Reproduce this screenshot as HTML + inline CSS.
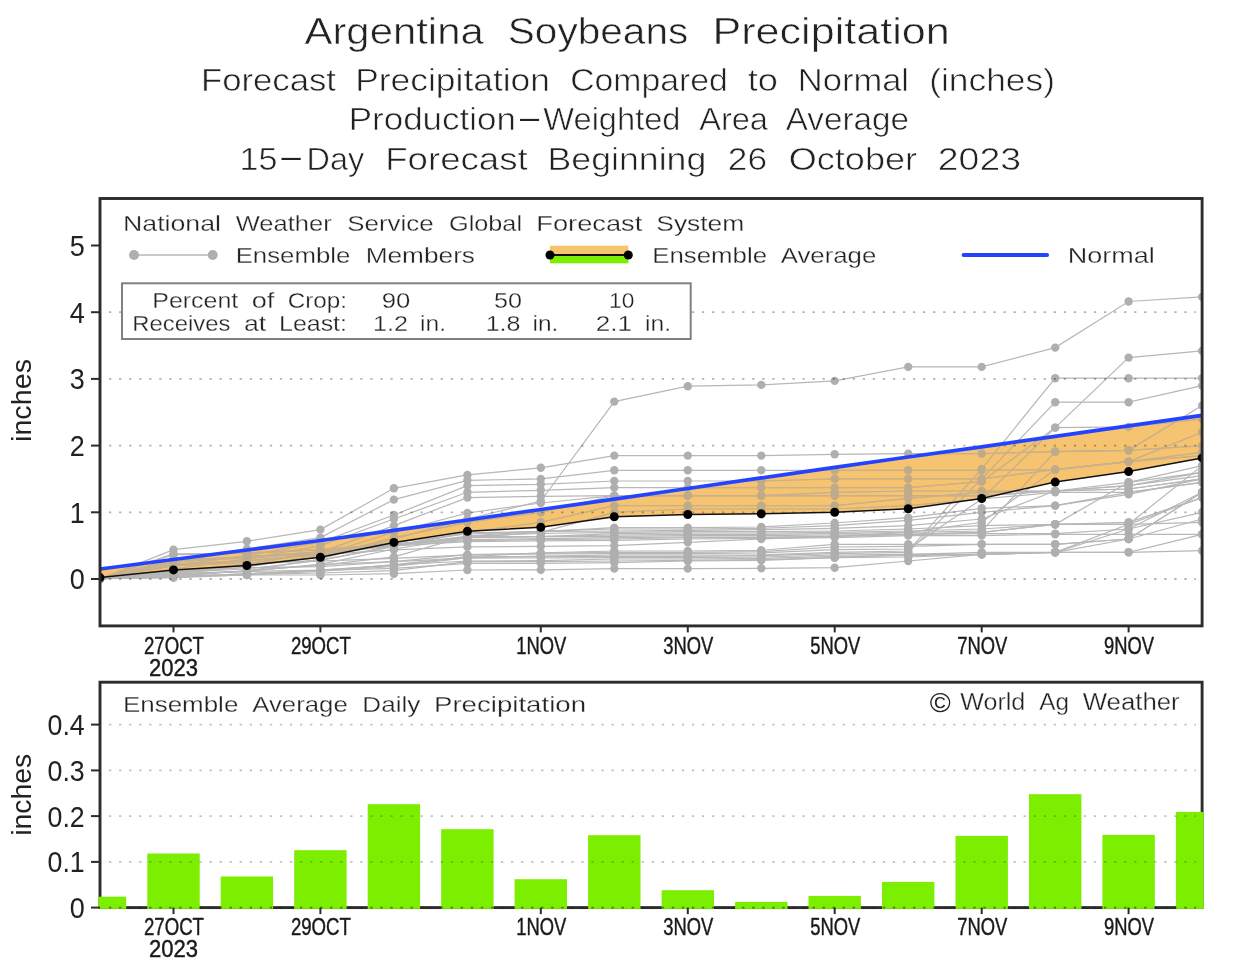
<!DOCTYPE html>
<html lang="en"><head><meta charset="utf-8"><title>Argentina Soybeans Precipitation</title>
<style>
html,body{margin:0;padding:0;background:#fff;}
svg{display:block;font-family:'Liberation Sans', sans-serif;}
</style></head><body>
<svg width="1233" height="969" viewBox="0 0 1233 969">
<rect width="1233" height="969" fill="#fff"/>
<text x="304.5" y="44.2" font-size="37.5" textLength="179.2" lengthAdjust="spacingAndGlyphs" fill="#222" stroke="#fff" stroke-width="0.6">Argentina</text>
<text x="507.8" y="44.2" font-size="37.5" textLength="180.5" lengthAdjust="spacingAndGlyphs" fill="#222" stroke="#fff" stroke-width="0.6">Soybeans</text>
<text x="712.5" y="44.2" font-size="37.5" textLength="237.2" lengthAdjust="spacingAndGlyphs" fill="#222" stroke="#fff" stroke-width="0.6">Precipitation</text>
<text x="201.0" y="90.7" font-size="31.5" textLength="135.0" lengthAdjust="spacingAndGlyphs" fill="#222" stroke="#fff" stroke-width="0.6">Forecast</text>
<text x="355.2" y="90.7" font-size="31.5" textLength="194.8" lengthAdjust="spacingAndGlyphs" fill="#222" stroke="#fff" stroke-width="0.6">Precipitation</text>
<text x="570.2" y="90.7" font-size="31.5" textLength="157.5" lengthAdjust="spacingAndGlyphs" fill="#222" stroke="#fff" stroke-width="0.6">Compared</text>
<text x="747.8" y="90.7" font-size="31.5" textLength="30.2" lengthAdjust="spacingAndGlyphs" fill="#222" stroke="#fff" stroke-width="0.6">to</text>
<text x="797.8" y="90.7" font-size="31.5" textLength="111.2" lengthAdjust="spacingAndGlyphs" fill="#222" stroke="#fff" stroke-width="0.6">Normal</text>
<text x="929.2" y="90.7" font-size="31.5" textLength="125.8" lengthAdjust="spacingAndGlyphs" fill="#222" stroke="#fff" stroke-width="0.6">(inches)</text>
<text x="348.7" y="129.7" font-size="31.5" textLength="167.3" lengthAdjust="spacingAndGlyphs" fill="#222" stroke="#fff" stroke-width="0.6">Production</text>
<text x="543.3" y="129.7" font-size="31.5" textLength="137.2" lengthAdjust="spacingAndGlyphs" fill="#222" stroke="#fff" stroke-width="0.6">Weighted</text>
<text x="699.2" y="129.7" font-size="31.5" textLength="68.8" lengthAdjust="spacingAndGlyphs" fill="#222" stroke="#fff" stroke-width="0.6">Area</text>
<text x="785.8" y="129.7" font-size="31.5" textLength="123.2" lengthAdjust="spacingAndGlyphs" fill="#222" stroke="#fff" stroke-width="0.6">Average</text>
<text x="239.5" y="170.0" font-size="31.5" textLength="38.0" lengthAdjust="spacingAndGlyphs" fill="#222" stroke="#fff" stroke-width="0.6">15</text>
<text x="306.6" y="170.0" font-size="31.5" textLength="57.6" lengthAdjust="spacingAndGlyphs" fill="#222" stroke="#fff" stroke-width="0.6">Day</text>
<text x="385.2" y="170.0" font-size="31.5" textLength="142.5" lengthAdjust="spacingAndGlyphs" fill="#222" stroke="#fff" stroke-width="0.6">Forecast</text>
<text x="547.5" y="170.0" font-size="31.5" textLength="158.8" lengthAdjust="spacingAndGlyphs" fill="#222" stroke="#fff" stroke-width="0.6">Beginning</text>
<text x="727.8" y="170.0" font-size="31.5" textLength="39.2" lengthAdjust="spacingAndGlyphs" fill="#222" stroke="#fff" stroke-width="0.6">26</text>
<text x="788.8" y="170.0" font-size="31.5" textLength="128.2" lengthAdjust="spacingAndGlyphs" fill="#222" stroke="#fff" stroke-width="0.6">October</text>
<text x="937.8" y="170.0" font-size="31.5" textLength="83.2" lengthAdjust="spacingAndGlyphs" fill="#222" stroke="#fff" stroke-width="0.6">2023</text>
<text x="519.9" y="127.5" font-size="31.5" textLength="19.1" lengthAdjust="spacingAndGlyphs" fill="#222">—</text>
<text x="281.5" y="167" font-size="31.5" textLength="19.2" lengthAdjust="spacingAndGlyphs" fill="#222">—</text>
<clipPath id="plot"><rect x="100.0" y="198.5" width="1102.1" height="427.4"/></clipPath>
<g clip-path="url(#plot)">
<g id="ens">
<g fill="none" stroke="#b7b7b7" stroke-width="1.2">
<polyline points="100.0,579.0 173.5,549.7 246.9,541.3 320.4,529.6 393.9,488.3 467.4,474.9 540.8,467.8 614.3,455.6 687.8,455.6 761.3,455.6 834.7,454.3 908.2,453.6 981.7,453.6 1055.2,451.6 1128.6,450.3 1202.1,405.6"/>
<polyline points="100.0,579.0 173.5,559.0 246.9,549.0 320.4,537.6 393.9,499.6 467.4,480.3 540.8,478.9 614.3,470.3 687.8,470.3 761.3,470.3 834.7,470.3 908.2,470.3 981.7,470.3 1055.2,469.6 1128.6,461.6 1202.1,432.3"/>
<polyline points="100.0,579.0 173.5,565.7 246.9,555.7 320.4,542.3 393.9,515.0 467.4,485.6 540.8,484.3 614.3,481.0 687.8,481.0 761.3,481.0 834.7,478.9 908.2,478.9 981.7,478.9 1055.2,469.6 1128.6,461.6 1202.1,452.3"/>
<polyline points="100.0,579.0 173.5,569.0 246.9,559.0 320.4,545.6 393.9,519.0 467.4,492.3 540.8,490.3 614.3,487.6 687.8,487.6 761.3,487.6 834.7,487.6 908.2,487.6 981.7,481.6 1055.2,427.6 1128.6,426.9 1202.1,418.9"/>
<polyline points="100.0,579.0 173.5,572.3 246.9,564.3 320.4,552.3 393.9,525.6 467.4,497.6 540.8,496.3 614.3,495.6 687.8,495.6 761.3,495.6 834.7,495.6 908.2,495.6 981.7,495.6 1055.2,491.0 1128.6,482.3 1202.1,472.3"/>
<polyline points="100.0,579.0 173.5,573.7 246.9,567.0 320.4,555.0 393.9,532.3 467.4,513.0 540.8,503.0 614.3,495.6 687.8,495.6 761.3,495.6 834.7,495.6 908.2,495.6 981.7,495.6 1055.2,491.0 1128.6,485.6 1202.1,475.6"/>
<polyline points="100.0,579.0 173.5,571.0 246.9,565.7 320.4,557.0 393.9,537.6 467.4,522.3 540.8,512.3 614.3,495.6 687.8,495.6 761.3,495.6 834.7,492.3 908.2,491.0 981.7,491.0 1055.2,491.0 1128.6,489.0 1202.1,478.9"/>
<polyline points="100.0,579.0 173.5,575.7 246.9,571.0 320.4,559.0 393.9,539.0 467.4,519.0 540.8,501.0 614.3,401.6 687.8,386.2 761.3,384.9 834.7,380.9 908.2,366.9 981.7,366.9 1055.2,347.6 1128.6,301.5 1202.1,296.9"/>
<polyline points="100.0,579.0 173.5,572.3 246.9,569.0 320.4,560.3 393.9,545.6 467.4,532.3 540.8,522.3 614.3,505.6 687.8,505.6 761.3,505.6 834.7,505.6 908.2,498.3 981.7,492.3 1055.2,491.0 1128.6,489.0 1202.1,478.9"/>
<polyline points="100.0,579.0 173.5,575.0 246.9,571.0 320.4,564.3 393.9,549.0 467.4,537.6 540.8,532.3 614.3,512.3 687.8,509.0 761.3,509.0 834.7,509.0 908.2,505.6 981.7,499.0 1055.2,492.3 1128.6,492.3 1202.1,482.3"/>
<polyline points="100.0,578.6 173.5,573.6 246.9,564.7 320.4,560.2 393.9,546.7 467.4,532.8 540.8,531.6 614.3,527.6 687.8,527.6 761.3,527.0 834.7,523.0 908.2,517.6 981.7,508.3 1055.2,505.6 1128.6,494.3 1202.1,478.9"/>
<polyline points="100.0,578.3 173.5,576.7 246.9,570.5 320.4,565.4 393.9,556.8 467.4,536.0 540.8,531.1 614.3,529.0 687.8,529.0 761.3,528.3 834.7,525.6 908.2,520.3 981.7,512.3 1055.2,505.6 1128.6,492.3 1202.1,482.3"/>
<polyline points="100.0,578.8 173.5,571.7 246.9,564.0 320.4,551.3 393.9,542.6 467.4,534.0 540.8,531.6 614.3,531.0 687.8,530.3 761.3,529.6 834.7,528.3 908.2,525.6 981.7,519.0 1055.2,491.0 1128.6,485.6 1202.1,472.3"/>
<polyline points="100.0,578.9 173.5,554.8 246.9,552.8 320.4,549.9 393.9,545.5 467.4,536.2 540.8,533.5 614.3,532.3 687.8,531.6 761.3,531.6 834.7,531.0 908.2,529.0 981.7,525.6 1055.2,524.3 1128.6,524.3 1202.1,522.3"/>
<polyline points="100.0,578.8 173.5,562.1 246.9,556.7 320.4,551.8 393.9,544.2 467.4,537.6 540.8,536.7 614.3,533.6 687.8,533.0 761.3,533.0 834.7,532.3 908.2,531.0 981.7,529.0 1055.2,524.3 1128.6,524.3 1202.1,497.6"/>
<polyline points="100.0,578.7 173.5,560.0 246.9,556.8 320.4,552.6 393.9,544.9 467.4,537.4 540.8,536.5 614.3,535.0 687.8,534.3 761.3,534.3 834.7,533.6 908.2,532.3 981.7,531.0 1055.2,451.6 1128.6,450.3 1202.1,445.6"/>
<polyline points="100.0,577.9 173.5,560.1 246.9,558.4 320.4,552.4 393.9,545.8 467.4,537.2 540.8,536.6 614.3,536.3 687.8,535.6 761.3,535.6 834.7,535.0 908.2,534.3 981.7,532.3 1055.2,524.3 1128.6,482.3 1202.1,465.6"/>
<polyline points="100.0,578.6 173.5,553.8 246.9,553.3 320.4,549.7 393.9,543.7 467.4,539.7 540.8,538.7 614.3,537.6 687.8,537.0 761.3,537.0 834.7,536.3 908.2,534.3 981.7,533.6 1055.2,533.6 1128.6,529.0 1202.1,492.3"/>
<polyline points="100.0,578.9 173.5,562.0 246.9,556.7 320.4,551.9 393.9,544.8 467.4,540.7 540.8,539.6 614.3,539.0 687.8,537.6 761.3,537.6 834.7,536.3 908.2,532.3 981.7,522.3 1055.2,469.6 1128.6,461.6 1202.1,455.6"/>
<polyline points="100.0,578.2 173.5,564.5 246.9,561.2 320.4,553.9 393.9,546.0 467.4,541.7 540.8,540.9 614.3,540.3 687.8,539.0 761.3,538.3 834.7,537.6 908.2,535.6 981.7,535.6 1055.2,534.3 1128.6,534.3 1202.1,534.3"/>
<polyline points="100.0,578.9 173.5,564.1 246.9,560.5 320.4,554.6 393.9,549.9 467.4,546.9 540.8,546.4 614.3,545.6 687.8,542.3 761.3,539.0 834.7,536.3 908.2,534.3 981.7,532.3 1055.2,524.3 1128.6,522.3 1202.1,497.6"/>
<polyline points="100.0,578.1 173.5,577.3 246.9,573.7 320.4,570.2 393.9,565.5 467.4,556.5 540.8,552.9 614.3,551.0 687.8,551.0 761.3,550.3 834.7,544.3 908.2,544.3 981.7,544.3 1055.2,544.3 1128.6,539.0 1202.1,519.0"/>
<polyline points="100.0,578.8 173.5,573.9 246.9,571.4 320.4,564.5 393.9,561.7 467.4,554.6 540.8,553.4 614.3,552.3 687.8,552.3 761.3,551.7 834.7,547.0 908.2,546.3 981.7,544.3 1055.2,544.3 1128.6,539.0 1202.1,492.3"/>
<polyline points="100.0,577.8 173.5,565.9 246.9,562.7 320.4,561.1 393.9,558.3 467.4,554.9 540.8,554.0 614.3,553.7 687.8,553.7 761.3,553.0 834.7,549.7 908.2,549.0 981.7,499.0 1055.2,427.6 1128.6,357.6 1202.1,350.9"/>
<polyline points="100.0,577.7 173.5,575.6 246.9,574.5 320.4,571.2 393.9,566.5 467.4,557.6 540.8,556.2 614.3,555.0 687.8,555.0 761.3,555.0 834.7,552.3 908.2,551.0 981.7,468.9 1055.2,378.2 1128.6,378.2 1202.1,378.2"/>
<polyline points="100.0,578.6 173.5,577.6 246.9,574.9 320.4,571.0 393.9,564.7 467.4,556.9 540.8,556.5 614.3,556.3 687.8,556.3 761.3,555.7 834.7,553.7 908.2,552.3 981.7,478.9 1055.2,402.2 1128.6,402.2 1202.1,385.6"/>
<polyline points="100.0,578.3 173.5,570.3 246.9,567.7 320.4,566.6 393.9,561.6 467.4,558.2 540.8,557.8 614.3,557.7 687.8,557.7 761.3,557.0 834.7,555.0 908.2,554.3 981.7,552.3 1055.2,552.3 1128.6,552.3 1202.1,550.7"/>
<polyline points="100.0,577.9 173.5,573.3 246.9,571.6 320.4,570.0 393.9,565.0 467.4,561.0 540.8,560.7 614.3,559.0 687.8,559.0 761.3,558.3 834.7,556.3 908.2,555.7 981.7,554.3 1055.2,552.3 1128.6,524.3 1202.1,465.6"/>
<polyline points="100.0,578.7 173.5,576.1 246.9,574.5 320.4,573.0 393.9,570.6 467.4,561.7 540.8,561.7 614.3,561.0 687.8,560.3 761.3,559.7 834.7,557.7 908.2,554.3 981.7,554.3 1055.2,552.3 1128.6,539.0 1202.1,492.3"/>
<polyline points="100.0,578.5 173.5,577.4 246.9,573.6 320.4,570.5 393.9,568.4 467.4,563.3 540.8,563.3 614.3,562.7 687.8,561.0 761.3,560.3 834.7,557.7 908.2,557.0 981.7,554.3 1055.2,552.3 1128.6,529.0 1202.1,512.3"/>
<polyline points="100.0,578.5 173.5,577.0 246.9,575.0 320.4,575.0 393.9,573.7 467.4,570.0 540.8,569.9 614.3,568.6 687.8,568.6 761.3,568.3 834.7,567.7 908.2,561.0 981.7,554.3 1055.2,552.3 1128.6,552.3 1202.1,534.3"/>
</g>
<g fill="#afafaf">
<circle cx="100.0" cy="579.0" r="4.2"/>
<circle cx="173.5" cy="549.7" r="4.2"/>
<circle cx="246.9" cy="541.3" r="4.2"/>
<circle cx="320.4" cy="529.6" r="4.2"/>
<circle cx="393.9" cy="488.3" r="4.2"/>
<circle cx="467.4" cy="474.9" r="4.2"/>
<circle cx="540.8" cy="467.8" r="4.2"/>
<circle cx="614.3" cy="455.6" r="4.2"/>
<circle cx="687.8" cy="455.6" r="4.2"/>
<circle cx="761.3" cy="455.6" r="4.2"/>
<circle cx="834.7" cy="454.3" r="4.2"/>
<circle cx="908.2" cy="453.6" r="4.2"/>
<circle cx="981.7" cy="453.6" r="4.2"/>
<circle cx="1055.2" cy="451.6" r="4.2"/>
<circle cx="1128.6" cy="450.3" r="4.2"/>
<circle cx="1202.1" cy="405.6" r="4.2"/>
<circle cx="100.0" cy="579.0" r="4.2"/>
<circle cx="173.5" cy="559.0" r="4.2"/>
<circle cx="246.9" cy="549.0" r="4.2"/>
<circle cx="320.4" cy="537.6" r="4.2"/>
<circle cx="393.9" cy="499.6" r="4.2"/>
<circle cx="467.4" cy="480.3" r="4.2"/>
<circle cx="540.8" cy="478.9" r="4.2"/>
<circle cx="614.3" cy="470.3" r="4.2"/>
<circle cx="687.8" cy="470.3" r="4.2"/>
<circle cx="761.3" cy="470.3" r="4.2"/>
<circle cx="834.7" cy="470.3" r="4.2"/>
<circle cx="908.2" cy="470.3" r="4.2"/>
<circle cx="981.7" cy="470.3" r="4.2"/>
<circle cx="1055.2" cy="469.6" r="4.2"/>
<circle cx="1128.6" cy="461.6" r="4.2"/>
<circle cx="1202.1" cy="432.3" r="4.2"/>
<circle cx="100.0" cy="579.0" r="4.2"/>
<circle cx="173.5" cy="565.7" r="4.2"/>
<circle cx="246.9" cy="555.7" r="4.2"/>
<circle cx="320.4" cy="542.3" r="4.2"/>
<circle cx="393.9" cy="515.0" r="4.2"/>
<circle cx="467.4" cy="485.6" r="4.2"/>
<circle cx="540.8" cy="484.3" r="4.2"/>
<circle cx="614.3" cy="481.0" r="4.2"/>
<circle cx="687.8" cy="481.0" r="4.2"/>
<circle cx="761.3" cy="481.0" r="4.2"/>
<circle cx="834.7" cy="478.9" r="4.2"/>
<circle cx="908.2" cy="478.9" r="4.2"/>
<circle cx="981.7" cy="478.9" r="4.2"/>
<circle cx="1055.2" cy="469.6" r="4.2"/>
<circle cx="1128.6" cy="461.6" r="4.2"/>
<circle cx="1202.1" cy="452.3" r="4.2"/>
<circle cx="100.0" cy="579.0" r="4.2"/>
<circle cx="173.5" cy="569.0" r="4.2"/>
<circle cx="246.9" cy="559.0" r="4.2"/>
<circle cx="320.4" cy="545.6" r="4.2"/>
<circle cx="393.9" cy="519.0" r="4.2"/>
<circle cx="467.4" cy="492.3" r="4.2"/>
<circle cx="540.8" cy="490.3" r="4.2"/>
<circle cx="614.3" cy="487.6" r="4.2"/>
<circle cx="687.8" cy="487.6" r="4.2"/>
<circle cx="761.3" cy="487.6" r="4.2"/>
<circle cx="834.7" cy="487.6" r="4.2"/>
<circle cx="908.2" cy="487.6" r="4.2"/>
<circle cx="981.7" cy="481.6" r="4.2"/>
<circle cx="1055.2" cy="427.6" r="4.2"/>
<circle cx="1128.6" cy="426.9" r="4.2"/>
<circle cx="1202.1" cy="418.9" r="4.2"/>
<circle cx="100.0" cy="579.0" r="4.2"/>
<circle cx="173.5" cy="572.3" r="4.2"/>
<circle cx="246.9" cy="564.3" r="4.2"/>
<circle cx="320.4" cy="552.3" r="4.2"/>
<circle cx="393.9" cy="525.6" r="4.2"/>
<circle cx="467.4" cy="497.6" r="4.2"/>
<circle cx="540.8" cy="496.3" r="4.2"/>
<circle cx="614.3" cy="495.6" r="4.2"/>
<circle cx="687.8" cy="495.6" r="4.2"/>
<circle cx="761.3" cy="495.6" r="4.2"/>
<circle cx="834.7" cy="495.6" r="4.2"/>
<circle cx="908.2" cy="495.6" r="4.2"/>
<circle cx="981.7" cy="495.6" r="4.2"/>
<circle cx="1055.2" cy="491.0" r="4.2"/>
<circle cx="1128.6" cy="482.3" r="4.2"/>
<circle cx="1202.1" cy="472.3" r="4.2"/>
<circle cx="100.0" cy="579.0" r="4.2"/>
<circle cx="173.5" cy="573.7" r="4.2"/>
<circle cx="246.9" cy="567.0" r="4.2"/>
<circle cx="320.4" cy="555.0" r="4.2"/>
<circle cx="393.9" cy="532.3" r="4.2"/>
<circle cx="467.4" cy="513.0" r="4.2"/>
<circle cx="540.8" cy="503.0" r="4.2"/>
<circle cx="614.3" cy="495.6" r="4.2"/>
<circle cx="687.8" cy="495.6" r="4.2"/>
<circle cx="761.3" cy="495.6" r="4.2"/>
<circle cx="834.7" cy="495.6" r="4.2"/>
<circle cx="908.2" cy="495.6" r="4.2"/>
<circle cx="981.7" cy="495.6" r="4.2"/>
<circle cx="1055.2" cy="491.0" r="4.2"/>
<circle cx="1128.6" cy="485.6" r="4.2"/>
<circle cx="1202.1" cy="475.6" r="4.2"/>
<circle cx="100.0" cy="579.0" r="4.2"/>
<circle cx="173.5" cy="571.0" r="4.2"/>
<circle cx="246.9" cy="565.7" r="4.2"/>
<circle cx="320.4" cy="557.0" r="4.2"/>
<circle cx="393.9" cy="537.6" r="4.2"/>
<circle cx="467.4" cy="522.3" r="4.2"/>
<circle cx="540.8" cy="512.3" r="4.2"/>
<circle cx="614.3" cy="495.6" r="4.2"/>
<circle cx="687.8" cy="495.6" r="4.2"/>
<circle cx="761.3" cy="495.6" r="4.2"/>
<circle cx="834.7" cy="492.3" r="4.2"/>
<circle cx="908.2" cy="491.0" r="4.2"/>
<circle cx="981.7" cy="491.0" r="4.2"/>
<circle cx="1055.2" cy="491.0" r="4.2"/>
<circle cx="1128.6" cy="489.0" r="4.2"/>
<circle cx="1202.1" cy="478.9" r="4.2"/>
<circle cx="100.0" cy="579.0" r="4.2"/>
<circle cx="173.5" cy="575.7" r="4.2"/>
<circle cx="246.9" cy="571.0" r="4.2"/>
<circle cx="320.4" cy="559.0" r="4.2"/>
<circle cx="393.9" cy="539.0" r="4.2"/>
<circle cx="467.4" cy="519.0" r="4.2"/>
<circle cx="540.8" cy="501.0" r="4.2"/>
<circle cx="614.3" cy="401.6" r="4.2"/>
<circle cx="687.8" cy="386.2" r="4.2"/>
<circle cx="761.3" cy="384.9" r="4.2"/>
<circle cx="834.7" cy="380.9" r="4.2"/>
<circle cx="908.2" cy="366.9" r="4.2"/>
<circle cx="981.7" cy="366.9" r="4.2"/>
<circle cx="1055.2" cy="347.6" r="4.2"/>
<circle cx="1128.6" cy="301.5" r="4.2"/>
<circle cx="1202.1" cy="296.9" r="4.2"/>
<circle cx="100.0" cy="579.0" r="4.2"/>
<circle cx="173.5" cy="572.3" r="4.2"/>
<circle cx="246.9" cy="569.0" r="4.2"/>
<circle cx="320.4" cy="560.3" r="4.2"/>
<circle cx="393.9" cy="545.6" r="4.2"/>
<circle cx="467.4" cy="532.3" r="4.2"/>
<circle cx="540.8" cy="522.3" r="4.2"/>
<circle cx="614.3" cy="505.6" r="4.2"/>
<circle cx="687.8" cy="505.6" r="4.2"/>
<circle cx="761.3" cy="505.6" r="4.2"/>
<circle cx="834.7" cy="505.6" r="4.2"/>
<circle cx="908.2" cy="498.3" r="4.2"/>
<circle cx="981.7" cy="492.3" r="4.2"/>
<circle cx="1055.2" cy="491.0" r="4.2"/>
<circle cx="1128.6" cy="489.0" r="4.2"/>
<circle cx="1202.1" cy="478.9" r="4.2"/>
<circle cx="100.0" cy="579.0" r="4.2"/>
<circle cx="173.5" cy="575.0" r="4.2"/>
<circle cx="246.9" cy="571.0" r="4.2"/>
<circle cx="320.4" cy="564.3" r="4.2"/>
<circle cx="393.9" cy="549.0" r="4.2"/>
<circle cx="467.4" cy="537.6" r="4.2"/>
<circle cx="540.8" cy="532.3" r="4.2"/>
<circle cx="614.3" cy="512.3" r="4.2"/>
<circle cx="687.8" cy="509.0" r="4.2"/>
<circle cx="761.3" cy="509.0" r="4.2"/>
<circle cx="834.7" cy="509.0" r="4.2"/>
<circle cx="908.2" cy="505.6" r="4.2"/>
<circle cx="981.7" cy="499.0" r="4.2"/>
<circle cx="1055.2" cy="492.3" r="4.2"/>
<circle cx="1128.6" cy="492.3" r="4.2"/>
<circle cx="1202.1" cy="482.3" r="4.2"/>
<circle cx="100.0" cy="578.6" r="4.2"/>
<circle cx="173.5" cy="573.6" r="4.2"/>
<circle cx="246.9" cy="564.7" r="4.2"/>
<circle cx="320.4" cy="560.2" r="4.2"/>
<circle cx="393.9" cy="546.7" r="4.2"/>
<circle cx="467.4" cy="532.8" r="4.2"/>
<circle cx="540.8" cy="531.6" r="4.2"/>
<circle cx="614.3" cy="527.6" r="4.2"/>
<circle cx="687.8" cy="527.6" r="4.2"/>
<circle cx="761.3" cy="527.0" r="4.2"/>
<circle cx="834.7" cy="523.0" r="4.2"/>
<circle cx="908.2" cy="517.6" r="4.2"/>
<circle cx="981.7" cy="508.3" r="4.2"/>
<circle cx="1055.2" cy="505.6" r="4.2"/>
<circle cx="1128.6" cy="494.3" r="4.2"/>
<circle cx="1202.1" cy="478.9" r="4.2"/>
<circle cx="100.0" cy="578.3" r="4.2"/>
<circle cx="173.5" cy="576.7" r="4.2"/>
<circle cx="246.9" cy="570.5" r="4.2"/>
<circle cx="320.4" cy="565.4" r="4.2"/>
<circle cx="393.9" cy="556.8" r="4.2"/>
<circle cx="467.4" cy="536.0" r="4.2"/>
<circle cx="540.8" cy="531.1" r="4.2"/>
<circle cx="614.3" cy="529.0" r="4.2"/>
<circle cx="687.8" cy="529.0" r="4.2"/>
<circle cx="761.3" cy="528.3" r="4.2"/>
<circle cx="834.7" cy="525.6" r="4.2"/>
<circle cx="908.2" cy="520.3" r="4.2"/>
<circle cx="981.7" cy="512.3" r="4.2"/>
<circle cx="1055.2" cy="505.6" r="4.2"/>
<circle cx="1128.6" cy="492.3" r="4.2"/>
<circle cx="1202.1" cy="482.3" r="4.2"/>
<circle cx="100.0" cy="578.8" r="4.2"/>
<circle cx="173.5" cy="571.7" r="4.2"/>
<circle cx="246.9" cy="564.0" r="4.2"/>
<circle cx="320.4" cy="551.3" r="4.2"/>
<circle cx="393.9" cy="542.6" r="4.2"/>
<circle cx="467.4" cy="534.0" r="4.2"/>
<circle cx="540.8" cy="531.6" r="4.2"/>
<circle cx="614.3" cy="531.0" r="4.2"/>
<circle cx="687.8" cy="530.3" r="4.2"/>
<circle cx="761.3" cy="529.6" r="4.2"/>
<circle cx="834.7" cy="528.3" r="4.2"/>
<circle cx="908.2" cy="525.6" r="4.2"/>
<circle cx="981.7" cy="519.0" r="4.2"/>
<circle cx="1055.2" cy="491.0" r="4.2"/>
<circle cx="1128.6" cy="485.6" r="4.2"/>
<circle cx="1202.1" cy="472.3" r="4.2"/>
<circle cx="100.0" cy="578.9" r="4.2"/>
<circle cx="173.5" cy="554.8" r="4.2"/>
<circle cx="246.9" cy="552.8" r="4.2"/>
<circle cx="320.4" cy="549.9" r="4.2"/>
<circle cx="393.9" cy="545.5" r="4.2"/>
<circle cx="467.4" cy="536.2" r="4.2"/>
<circle cx="540.8" cy="533.5" r="4.2"/>
<circle cx="614.3" cy="532.3" r="4.2"/>
<circle cx="687.8" cy="531.6" r="4.2"/>
<circle cx="761.3" cy="531.6" r="4.2"/>
<circle cx="834.7" cy="531.0" r="4.2"/>
<circle cx="908.2" cy="529.0" r="4.2"/>
<circle cx="981.7" cy="525.6" r="4.2"/>
<circle cx="1055.2" cy="524.3" r="4.2"/>
<circle cx="1128.6" cy="524.3" r="4.2"/>
<circle cx="1202.1" cy="522.3" r="4.2"/>
<circle cx="100.0" cy="578.8" r="4.2"/>
<circle cx="173.5" cy="562.1" r="4.2"/>
<circle cx="246.9" cy="556.7" r="4.2"/>
<circle cx="320.4" cy="551.8" r="4.2"/>
<circle cx="393.9" cy="544.2" r="4.2"/>
<circle cx="467.4" cy="537.6" r="4.2"/>
<circle cx="540.8" cy="536.7" r="4.2"/>
<circle cx="614.3" cy="533.6" r="4.2"/>
<circle cx="687.8" cy="533.0" r="4.2"/>
<circle cx="761.3" cy="533.0" r="4.2"/>
<circle cx="834.7" cy="532.3" r="4.2"/>
<circle cx="908.2" cy="531.0" r="4.2"/>
<circle cx="981.7" cy="529.0" r="4.2"/>
<circle cx="1055.2" cy="524.3" r="4.2"/>
<circle cx="1128.6" cy="524.3" r="4.2"/>
<circle cx="1202.1" cy="497.6" r="4.2"/>
<circle cx="100.0" cy="578.7" r="4.2"/>
<circle cx="173.5" cy="560.0" r="4.2"/>
<circle cx="246.9" cy="556.8" r="4.2"/>
<circle cx="320.4" cy="552.6" r="4.2"/>
<circle cx="393.9" cy="544.9" r="4.2"/>
<circle cx="467.4" cy="537.4" r="4.2"/>
<circle cx="540.8" cy="536.5" r="4.2"/>
<circle cx="614.3" cy="535.0" r="4.2"/>
<circle cx="687.8" cy="534.3" r="4.2"/>
<circle cx="761.3" cy="534.3" r="4.2"/>
<circle cx="834.7" cy="533.6" r="4.2"/>
<circle cx="908.2" cy="532.3" r="4.2"/>
<circle cx="981.7" cy="531.0" r="4.2"/>
<circle cx="1055.2" cy="451.6" r="4.2"/>
<circle cx="1128.6" cy="450.3" r="4.2"/>
<circle cx="1202.1" cy="445.6" r="4.2"/>
<circle cx="100.0" cy="577.9" r="4.2"/>
<circle cx="173.5" cy="560.1" r="4.2"/>
<circle cx="246.9" cy="558.4" r="4.2"/>
<circle cx="320.4" cy="552.4" r="4.2"/>
<circle cx="393.9" cy="545.8" r="4.2"/>
<circle cx="467.4" cy="537.2" r="4.2"/>
<circle cx="540.8" cy="536.6" r="4.2"/>
<circle cx="614.3" cy="536.3" r="4.2"/>
<circle cx="687.8" cy="535.6" r="4.2"/>
<circle cx="761.3" cy="535.6" r="4.2"/>
<circle cx="834.7" cy="535.0" r="4.2"/>
<circle cx="908.2" cy="534.3" r="4.2"/>
<circle cx="981.7" cy="532.3" r="4.2"/>
<circle cx="1055.2" cy="524.3" r="4.2"/>
<circle cx="1128.6" cy="482.3" r="4.2"/>
<circle cx="1202.1" cy="465.6" r="4.2"/>
<circle cx="100.0" cy="578.6" r="4.2"/>
<circle cx="173.5" cy="553.8" r="4.2"/>
<circle cx="246.9" cy="553.3" r="4.2"/>
<circle cx="320.4" cy="549.7" r="4.2"/>
<circle cx="393.9" cy="543.7" r="4.2"/>
<circle cx="467.4" cy="539.7" r="4.2"/>
<circle cx="540.8" cy="538.7" r="4.2"/>
<circle cx="614.3" cy="537.6" r="4.2"/>
<circle cx="687.8" cy="537.0" r="4.2"/>
<circle cx="761.3" cy="537.0" r="4.2"/>
<circle cx="834.7" cy="536.3" r="4.2"/>
<circle cx="908.2" cy="534.3" r="4.2"/>
<circle cx="981.7" cy="533.6" r="4.2"/>
<circle cx="1055.2" cy="533.6" r="4.2"/>
<circle cx="1128.6" cy="529.0" r="4.2"/>
<circle cx="1202.1" cy="492.3" r="4.2"/>
<circle cx="100.0" cy="578.9" r="4.2"/>
<circle cx="173.5" cy="562.0" r="4.2"/>
<circle cx="246.9" cy="556.7" r="4.2"/>
<circle cx="320.4" cy="551.9" r="4.2"/>
<circle cx="393.9" cy="544.8" r="4.2"/>
<circle cx="467.4" cy="540.7" r="4.2"/>
<circle cx="540.8" cy="539.6" r="4.2"/>
<circle cx="614.3" cy="539.0" r="4.2"/>
<circle cx="687.8" cy="537.6" r="4.2"/>
<circle cx="761.3" cy="537.6" r="4.2"/>
<circle cx="834.7" cy="536.3" r="4.2"/>
<circle cx="908.2" cy="532.3" r="4.2"/>
<circle cx="981.7" cy="522.3" r="4.2"/>
<circle cx="1055.2" cy="469.6" r="4.2"/>
<circle cx="1128.6" cy="461.6" r="4.2"/>
<circle cx="1202.1" cy="455.6" r="4.2"/>
<circle cx="100.0" cy="578.2" r="4.2"/>
<circle cx="173.5" cy="564.5" r="4.2"/>
<circle cx="246.9" cy="561.2" r="4.2"/>
<circle cx="320.4" cy="553.9" r="4.2"/>
<circle cx="393.9" cy="546.0" r="4.2"/>
<circle cx="467.4" cy="541.7" r="4.2"/>
<circle cx="540.8" cy="540.9" r="4.2"/>
<circle cx="614.3" cy="540.3" r="4.2"/>
<circle cx="687.8" cy="539.0" r="4.2"/>
<circle cx="761.3" cy="538.3" r="4.2"/>
<circle cx="834.7" cy="537.6" r="4.2"/>
<circle cx="908.2" cy="535.6" r="4.2"/>
<circle cx="981.7" cy="535.6" r="4.2"/>
<circle cx="1055.2" cy="534.3" r="4.2"/>
<circle cx="1128.6" cy="534.3" r="4.2"/>
<circle cx="1202.1" cy="534.3" r="4.2"/>
<circle cx="100.0" cy="578.9" r="4.2"/>
<circle cx="173.5" cy="564.1" r="4.2"/>
<circle cx="246.9" cy="560.5" r="4.2"/>
<circle cx="320.4" cy="554.6" r="4.2"/>
<circle cx="393.9" cy="549.9" r="4.2"/>
<circle cx="467.4" cy="546.9" r="4.2"/>
<circle cx="540.8" cy="546.4" r="4.2"/>
<circle cx="614.3" cy="545.6" r="4.2"/>
<circle cx="687.8" cy="542.3" r="4.2"/>
<circle cx="761.3" cy="539.0" r="4.2"/>
<circle cx="834.7" cy="536.3" r="4.2"/>
<circle cx="908.2" cy="534.3" r="4.2"/>
<circle cx="981.7" cy="532.3" r="4.2"/>
<circle cx="1055.2" cy="524.3" r="4.2"/>
<circle cx="1128.6" cy="522.3" r="4.2"/>
<circle cx="1202.1" cy="497.6" r="4.2"/>
<circle cx="100.0" cy="578.1" r="4.2"/>
<circle cx="173.5" cy="577.3" r="4.2"/>
<circle cx="246.9" cy="573.7" r="4.2"/>
<circle cx="320.4" cy="570.2" r="4.2"/>
<circle cx="393.9" cy="565.5" r="4.2"/>
<circle cx="467.4" cy="556.5" r="4.2"/>
<circle cx="540.8" cy="552.9" r="4.2"/>
<circle cx="614.3" cy="551.0" r="4.2"/>
<circle cx="687.8" cy="551.0" r="4.2"/>
<circle cx="761.3" cy="550.3" r="4.2"/>
<circle cx="834.7" cy="544.3" r="4.2"/>
<circle cx="908.2" cy="544.3" r="4.2"/>
<circle cx="981.7" cy="544.3" r="4.2"/>
<circle cx="1055.2" cy="544.3" r="4.2"/>
<circle cx="1128.6" cy="539.0" r="4.2"/>
<circle cx="1202.1" cy="519.0" r="4.2"/>
<circle cx="100.0" cy="578.8" r="4.2"/>
<circle cx="173.5" cy="573.9" r="4.2"/>
<circle cx="246.9" cy="571.4" r="4.2"/>
<circle cx="320.4" cy="564.5" r="4.2"/>
<circle cx="393.9" cy="561.7" r="4.2"/>
<circle cx="467.4" cy="554.6" r="4.2"/>
<circle cx="540.8" cy="553.4" r="4.2"/>
<circle cx="614.3" cy="552.3" r="4.2"/>
<circle cx="687.8" cy="552.3" r="4.2"/>
<circle cx="761.3" cy="551.7" r="4.2"/>
<circle cx="834.7" cy="547.0" r="4.2"/>
<circle cx="908.2" cy="546.3" r="4.2"/>
<circle cx="981.7" cy="544.3" r="4.2"/>
<circle cx="1055.2" cy="544.3" r="4.2"/>
<circle cx="1128.6" cy="539.0" r="4.2"/>
<circle cx="1202.1" cy="492.3" r="4.2"/>
<circle cx="100.0" cy="577.8" r="4.2"/>
<circle cx="173.5" cy="565.9" r="4.2"/>
<circle cx="246.9" cy="562.7" r="4.2"/>
<circle cx="320.4" cy="561.1" r="4.2"/>
<circle cx="393.9" cy="558.3" r="4.2"/>
<circle cx="467.4" cy="554.9" r="4.2"/>
<circle cx="540.8" cy="554.0" r="4.2"/>
<circle cx="614.3" cy="553.7" r="4.2"/>
<circle cx="687.8" cy="553.7" r="4.2"/>
<circle cx="761.3" cy="553.0" r="4.2"/>
<circle cx="834.7" cy="549.7" r="4.2"/>
<circle cx="908.2" cy="549.0" r="4.2"/>
<circle cx="981.7" cy="499.0" r="4.2"/>
<circle cx="1055.2" cy="427.6" r="4.2"/>
<circle cx="1128.6" cy="357.6" r="4.2"/>
<circle cx="1202.1" cy="350.9" r="4.2"/>
<circle cx="100.0" cy="577.7" r="4.2"/>
<circle cx="173.5" cy="575.6" r="4.2"/>
<circle cx="246.9" cy="574.5" r="4.2"/>
<circle cx="320.4" cy="571.2" r="4.2"/>
<circle cx="393.9" cy="566.5" r="4.2"/>
<circle cx="467.4" cy="557.6" r="4.2"/>
<circle cx="540.8" cy="556.2" r="4.2"/>
<circle cx="614.3" cy="555.0" r="4.2"/>
<circle cx="687.8" cy="555.0" r="4.2"/>
<circle cx="761.3" cy="555.0" r="4.2"/>
<circle cx="834.7" cy="552.3" r="4.2"/>
<circle cx="908.2" cy="551.0" r="4.2"/>
<circle cx="981.7" cy="468.9" r="4.2"/>
<circle cx="1055.2" cy="378.2" r="4.2"/>
<circle cx="1128.6" cy="378.2" r="4.2"/>
<circle cx="1202.1" cy="378.2" r="4.2"/>
<circle cx="100.0" cy="578.6" r="4.2"/>
<circle cx="173.5" cy="577.6" r="4.2"/>
<circle cx="246.9" cy="574.9" r="4.2"/>
<circle cx="320.4" cy="571.0" r="4.2"/>
<circle cx="393.9" cy="564.7" r="4.2"/>
<circle cx="467.4" cy="556.9" r="4.2"/>
<circle cx="540.8" cy="556.5" r="4.2"/>
<circle cx="614.3" cy="556.3" r="4.2"/>
<circle cx="687.8" cy="556.3" r="4.2"/>
<circle cx="761.3" cy="555.7" r="4.2"/>
<circle cx="834.7" cy="553.7" r="4.2"/>
<circle cx="908.2" cy="552.3" r="4.2"/>
<circle cx="981.7" cy="478.9" r="4.2"/>
<circle cx="1055.2" cy="402.2" r="4.2"/>
<circle cx="1128.6" cy="402.2" r="4.2"/>
<circle cx="1202.1" cy="385.6" r="4.2"/>
<circle cx="100.0" cy="578.3" r="4.2"/>
<circle cx="173.5" cy="570.3" r="4.2"/>
<circle cx="246.9" cy="567.7" r="4.2"/>
<circle cx="320.4" cy="566.6" r="4.2"/>
<circle cx="393.9" cy="561.6" r="4.2"/>
<circle cx="467.4" cy="558.2" r="4.2"/>
<circle cx="540.8" cy="557.8" r="4.2"/>
<circle cx="614.3" cy="557.7" r="4.2"/>
<circle cx="687.8" cy="557.7" r="4.2"/>
<circle cx="761.3" cy="557.0" r="4.2"/>
<circle cx="834.7" cy="555.0" r="4.2"/>
<circle cx="908.2" cy="554.3" r="4.2"/>
<circle cx="981.7" cy="552.3" r="4.2"/>
<circle cx="1055.2" cy="552.3" r="4.2"/>
<circle cx="1128.6" cy="552.3" r="4.2"/>
<circle cx="1202.1" cy="550.7" r="4.2"/>
<circle cx="100.0" cy="577.9" r="4.2"/>
<circle cx="173.5" cy="573.3" r="4.2"/>
<circle cx="246.9" cy="571.6" r="4.2"/>
<circle cx="320.4" cy="570.0" r="4.2"/>
<circle cx="393.9" cy="565.0" r="4.2"/>
<circle cx="467.4" cy="561.0" r="4.2"/>
<circle cx="540.8" cy="560.7" r="4.2"/>
<circle cx="614.3" cy="559.0" r="4.2"/>
<circle cx="687.8" cy="559.0" r="4.2"/>
<circle cx="761.3" cy="558.3" r="4.2"/>
<circle cx="834.7" cy="556.3" r="4.2"/>
<circle cx="908.2" cy="555.7" r="4.2"/>
<circle cx="981.7" cy="554.3" r="4.2"/>
<circle cx="1055.2" cy="552.3" r="4.2"/>
<circle cx="1128.6" cy="524.3" r="4.2"/>
<circle cx="1202.1" cy="465.6" r="4.2"/>
<circle cx="100.0" cy="578.7" r="4.2"/>
<circle cx="173.5" cy="576.1" r="4.2"/>
<circle cx="246.9" cy="574.5" r="4.2"/>
<circle cx="320.4" cy="573.0" r="4.2"/>
<circle cx="393.9" cy="570.6" r="4.2"/>
<circle cx="467.4" cy="561.7" r="4.2"/>
<circle cx="540.8" cy="561.7" r="4.2"/>
<circle cx="614.3" cy="561.0" r="4.2"/>
<circle cx="687.8" cy="560.3" r="4.2"/>
<circle cx="761.3" cy="559.7" r="4.2"/>
<circle cx="834.7" cy="557.7" r="4.2"/>
<circle cx="908.2" cy="554.3" r="4.2"/>
<circle cx="981.7" cy="554.3" r="4.2"/>
<circle cx="1055.2" cy="552.3" r="4.2"/>
<circle cx="1128.6" cy="539.0" r="4.2"/>
<circle cx="1202.1" cy="492.3" r="4.2"/>
<circle cx="100.0" cy="578.5" r="4.2"/>
<circle cx="173.5" cy="577.4" r="4.2"/>
<circle cx="246.9" cy="573.6" r="4.2"/>
<circle cx="320.4" cy="570.5" r="4.2"/>
<circle cx="393.9" cy="568.4" r="4.2"/>
<circle cx="467.4" cy="563.3" r="4.2"/>
<circle cx="540.8" cy="563.3" r="4.2"/>
<circle cx="614.3" cy="562.7" r="4.2"/>
<circle cx="687.8" cy="561.0" r="4.2"/>
<circle cx="761.3" cy="560.3" r="4.2"/>
<circle cx="834.7" cy="557.7" r="4.2"/>
<circle cx="908.2" cy="557.0" r="4.2"/>
<circle cx="981.7" cy="554.3" r="4.2"/>
<circle cx="1055.2" cy="552.3" r="4.2"/>
<circle cx="1128.6" cy="529.0" r="4.2"/>
<circle cx="1202.1" cy="512.3" r="4.2"/>
<circle cx="100.0" cy="578.5" r="4.2"/>
<circle cx="173.5" cy="577.0" r="4.2"/>
<circle cx="246.9" cy="575.0" r="4.2"/>
<circle cx="320.4" cy="575.0" r="4.2"/>
<circle cx="393.9" cy="573.7" r="4.2"/>
<circle cx="467.4" cy="570.0" r="4.2"/>
<circle cx="540.8" cy="569.9" r="4.2"/>
<circle cx="614.3" cy="568.6" r="4.2"/>
<circle cx="687.8" cy="568.6" r="4.2"/>
<circle cx="761.3" cy="568.3" r="4.2"/>
<circle cx="834.7" cy="567.7" r="4.2"/>
<circle cx="908.2" cy="561.0" r="4.2"/>
<circle cx="981.7" cy="554.3" r="4.2"/>
<circle cx="1055.2" cy="552.3" r="4.2"/>
<circle cx="1128.6" cy="552.3" r="4.2"/>
<circle cx="1202.1" cy="534.3" r="4.2"/>
</g>
</g>
<clipPath id="band"><polygon points="100.0,569.0 173.5,559.5 246.9,550.0 320.4,540.5 393.9,530.4 467.4,520.0 540.8,509.5 614.3,499.1 687.8,488.5 761.3,477.9 834.7,467.3 908.2,457.0 981.7,446.8 1055.2,436.3 1128.6,425.9 1202.1,415.4 1202.1,457.9 1128.6,471.6 1055.2,482.1 981.7,498.4 908.2,508.7 834.7,512.3 761.3,513.8 687.8,514.5 614.3,516.8 540.8,527.2 467.4,531.2 393.9,542.4 320.4,557.3 246.9,565.5 173.5,569.9 100.0,577.6"/></clipPath>
<polygon points="100.0,569.0 173.5,559.5 246.9,550.0 320.4,540.5 393.9,530.4 467.4,520.0 540.8,509.5 614.3,499.1 687.8,488.5 761.3,477.9 834.7,467.3 908.2,457.0 981.7,446.8 1055.2,436.3 1128.6,425.9 1202.1,415.4 1202.1,457.9 1128.6,471.6 1055.2,482.1 981.7,498.4 908.2,508.7 834.7,512.3 761.3,513.8 687.8,514.5 614.3,516.8 540.8,527.2 467.4,531.2 393.9,542.4 320.4,557.3 246.9,565.5 173.5,569.9 100.0,577.6" fill="#f1a01e" fill-opacity="0.63"/>
<use href="#ens" opacity="0.6" clip-path="url(#band)"/>
<line x1="109" x2="1196" y1="579.0" y2="579.0" stroke="#000" stroke-opacity="0.3" stroke-width="1.8" stroke-dasharray="2.3 7.75"/>
<line x1="109" x2="1196" y1="512.3" y2="512.3" stroke="#000" stroke-opacity="0.3" stroke-width="1.8" stroke-dasharray="2.3 7.75"/>
<line x1="109" x2="1196" y1="445.6" y2="445.6" stroke="#000" stroke-opacity="0.3" stroke-width="1.8" stroke-dasharray="2.3 7.75"/>
<line x1="109" x2="1196" y1="378.9" y2="378.9" stroke="#000" stroke-opacity="0.3" stroke-width="1.8" stroke-dasharray="2.3 7.75"/>
<line x1="109" x2="1196" y1="312.2" y2="312.2" stroke="#000" stroke-opacity="0.3" stroke-width="1.8" stroke-dasharray="2.3 7.75"/>
<polyline points="100.0,569.0 173.5,559.5 246.9,550.0 320.4,540.5 393.9,530.4 467.4,520.0 540.8,509.5 614.3,499.1 687.8,488.5 761.3,477.9 834.7,467.3 908.2,457.0 981.7,446.8 1055.2,436.3 1128.6,425.9 1202.1,415.4" fill="none" stroke="#2443ff" stroke-width="3.7"/>
<polyline points="100.0,577.6 173.5,569.9 246.9,565.5 320.4,557.3 393.9,542.4 467.4,531.2 540.8,527.2 614.3,516.8 687.8,514.5 761.3,513.8 834.7,512.3 908.2,508.7 981.7,498.4 1055.2,482.1 1128.6,471.6 1202.1,457.9" fill="none" stroke="#111" stroke-width="1.5"/>
<g fill="#000">
<circle cx="100.0" cy="577.6" r="4.5"/>
<circle cx="173.5" cy="569.9" r="4.5"/>
<circle cx="246.9" cy="565.5" r="4.5"/>
<circle cx="320.4" cy="557.3" r="4.5"/>
<circle cx="393.9" cy="542.4" r="4.5"/>
<circle cx="467.4" cy="531.2" r="4.5"/>
<circle cx="540.8" cy="527.2" r="4.5"/>
<circle cx="614.3" cy="516.8" r="4.5"/>
<circle cx="687.8" cy="514.5" r="4.5"/>
<circle cx="761.3" cy="513.8" r="4.5"/>
<circle cx="834.7" cy="512.3" r="4.5"/>
<circle cx="908.2" cy="508.7" r="4.5"/>
<circle cx="981.7" cy="498.4" r="4.5"/>
<circle cx="1055.2" cy="482.1" r="4.5"/>
<circle cx="1128.6" cy="471.6" r="4.5"/>
<circle cx="1202.1" cy="457.9" r="4.5"/>
</g>
</g>
<rect x="102" y="199" width="1098" height="76" fill="#fff"/>
<rect x="122" y="283.3" width="568.7" height="55.7" fill="#fff" stroke="#808080" stroke-width="2"/>
<rect x="100.0" y="198.5" width="1102.1" height="427.4" fill="none" stroke="#2c2c2c" stroke-width="2.9"/>
<text x="123.0" y="231.0" font-size="22.8" textLength="98.0" lengthAdjust="spacingAndGlyphs" fill="#222" stroke="#fff" stroke-width="0.3">National</text>
<text x="235.7" y="231.0" font-size="22.8" textLength="96.0" lengthAdjust="spacingAndGlyphs" fill="#222" stroke="#fff" stroke-width="0.3">Weather</text>
<text x="347.3" y="231.0" font-size="22.8" textLength="86.4" lengthAdjust="spacingAndGlyphs" fill="#222" stroke="#fff" stroke-width="0.3">Service</text>
<text x="449.0" y="231.0" font-size="22.8" textLength="73.0" lengthAdjust="spacingAndGlyphs" fill="#222" stroke="#fff" stroke-width="0.3">Global</text>
<text x="536.3" y="231.0" font-size="22.8" textLength="106.0" lengthAdjust="spacingAndGlyphs" fill="#222" stroke="#fff" stroke-width="0.3">Forecast</text>
<text x="656.3" y="231.0" font-size="22.8" textLength="88.0" lengthAdjust="spacingAndGlyphs" fill="#222" stroke="#fff" stroke-width="0.3">System</text>
<text x="235.7" y="263.3" font-size="22.8" textLength="114.6" lengthAdjust="spacingAndGlyphs" fill="#222" stroke="#fff" stroke-width="0.3">Ensemble</text>
<text x="365.7" y="263.3" font-size="22.8" textLength="109.3" lengthAdjust="spacingAndGlyphs" fill="#222" stroke="#fff" stroke-width="0.3">Members</text>
<text x="652.3" y="263.3" font-size="22.8" textLength="114.7" lengthAdjust="spacingAndGlyphs" fill="#222" stroke="#fff" stroke-width="0.3">Ensemble</text>
<text x="780.7" y="263.3" font-size="22.8" textLength="95.6" lengthAdjust="spacingAndGlyphs" fill="#222" stroke="#fff" stroke-width="0.3">Average</text>
<text x="1067.7" y="263.3" font-size="22.8" textLength="87.0" lengthAdjust="spacingAndGlyphs" fill="#222" stroke="#fff" stroke-width="0.3">Normal</text>
<line x1="134" x2="212.7" y1="255" y2="255" stroke="#b7b7b7" stroke-width="1.6"/>
<circle cx="134" cy="255" r="5" fill="#afafaf"/><circle cx="212.7" cy="255" r="5" fill="#afafaf"/>
<rect x="550" y="245.7" width="78.3" height="9.3" fill="#f6c36f"/>
<rect x="550" y="255" width="78.3" height="8.3" fill="#7cee00"/>
<line x1="550" x2="628.3" y1="255" y2="255" stroke="#111" stroke-width="2"/>
<circle cx="550" cy="255" r="4.5" fill="#000"/><circle cx="628.3" cy="255" r="4.5" fill="#000"/>
<line x1="963.7" x2="1047" y1="255" y2="255" stroke="#2443ff" stroke-width="4.2" stroke-linecap="round"/>
<text x="152.3" y="307.7" font-size="22.8" textLength="86.0" lengthAdjust="spacingAndGlyphs" fill="#222" stroke="#fff" stroke-width="0.3">Percent</text>
<text x="251.7" y="307.7" font-size="22.8" textLength="22.6" lengthAdjust="spacingAndGlyphs" fill="#222" stroke="#fff" stroke-width="0.3">of</text>
<text x="287.7" y="307.7" font-size="22.8" textLength="59.3" lengthAdjust="spacingAndGlyphs" fill="#222" stroke="#fff" stroke-width="0.3">Crop:</text>
<text x="381.7" y="307.7" font-size="22.8" textLength="28.6" lengthAdjust="spacingAndGlyphs" fill="#222" stroke="#fff" stroke-width="0.3">90</text>
<text x="494.0" y="307.7" font-size="22.8" textLength="28.0" lengthAdjust="spacingAndGlyphs" fill="#222" stroke="#fff" stroke-width="0.3">50</text>
<text x="609.0" y="307.7" font-size="22.8" textLength="25.3" lengthAdjust="spacingAndGlyphs" fill="#222" stroke="#fff" stroke-width="0.3">10</text>
<text x="132.3" y="330.7" font-size="22.8" textLength="98.0" lengthAdjust="spacingAndGlyphs" fill="#222" stroke="#fff" stroke-width="0.3">Receives</text>
<text x="244.0" y="330.7" font-size="22.8" textLength="22.3" lengthAdjust="spacingAndGlyphs" fill="#222" stroke="#fff" stroke-width="0.3">at</text>
<text x="279.0" y="330.7" font-size="22.8" textLength="68.0" lengthAdjust="spacingAndGlyphs" fill="#222" stroke="#fff" stroke-width="0.3">Least:</text>
<text x="373.0" y="330.7" font-size="22.8" textLength="35.0" lengthAdjust="spacingAndGlyphs" fill="#222" stroke="#fff" stroke-width="0.3">1.2</text>
<text x="420.0" y="330.7" font-size="22.8" textLength="26.0" lengthAdjust="spacingAndGlyphs" fill="#222" stroke="#fff" stroke-width="0.3">in.</text>
<text x="485.7" y="330.7" font-size="22.8" textLength="34.8" lengthAdjust="spacingAndGlyphs" fill="#222" stroke="#fff" stroke-width="0.3">1.8</text>
<text x="532.5" y="330.7" font-size="22.8" textLength="25.8" lengthAdjust="spacingAndGlyphs" fill="#222" stroke="#fff" stroke-width="0.3">in.</text>
<text x="595.7" y="330.7" font-size="22.8" textLength="36.3" lengthAdjust="spacingAndGlyphs" fill="#222" stroke="#fff" stroke-width="0.3">2.1</text>
<text x="645.0" y="330.7" font-size="22.8" textLength="26.0" lengthAdjust="spacingAndGlyphs" fill="#222" stroke="#fff" stroke-width="0.3">in.</text>
<line x1="91" x2="100" y1="579.0" y2="579.0" stroke="#2c2c2c" stroke-width="2"/>
<text x="84.7" y="589.4" font-size="29.3" text-anchor="end" textLength="15" lengthAdjust="spacingAndGlyphs" fill="#222">0</text>
<line x1="91" x2="100" y1="512.3" y2="512.3" stroke="#2c2c2c" stroke-width="2"/>
<text x="84.7" y="522.7" font-size="29.3" text-anchor="end" textLength="15" lengthAdjust="spacingAndGlyphs" fill="#222">1</text>
<line x1="91" x2="100" y1="445.6" y2="445.6" stroke="#2c2c2c" stroke-width="2"/>
<text x="84.7" y="456.0" font-size="29.3" text-anchor="end" textLength="15" lengthAdjust="spacingAndGlyphs" fill="#222">2</text>
<line x1="91" x2="100" y1="378.9" y2="378.9" stroke="#2c2c2c" stroke-width="2"/>
<text x="84.7" y="389.3" font-size="29.3" text-anchor="end" textLength="15" lengthAdjust="spacingAndGlyphs" fill="#222">3</text>
<line x1="91" x2="100" y1="312.2" y2="312.2" stroke="#2c2c2c" stroke-width="2"/>
<text x="84.7" y="322.6" font-size="29.3" text-anchor="end" textLength="15" lengthAdjust="spacingAndGlyphs" fill="#222">4</text>
<line x1="91" x2="100" y1="245.5" y2="245.5" stroke="#2c2c2c" stroke-width="2"/>
<text x="84.7" y="255.9" font-size="29.3" text-anchor="end" textLength="15" lengthAdjust="spacingAndGlyphs" fill="#222">5</text>
<text transform="translate(31,442.0) rotate(-90)" font-size="27.3" textLength="83.0" lengthAdjust="spacingAndGlyphs" fill="#222">inches</text>
<line x1="173.5" x2="173.5" y1="625.9" y2="632.4" stroke="#2c2c2c" stroke-width="2"/>
<text x="144.0" y="653.8" font-size="24.4" textLength="60" lengthAdjust="spacingAndGlyphs" fill="#1a1a1a" stroke="#1a1a1a" stroke-width="0.45">27OCT</text>
<line x1="320.4" x2="320.4" y1="625.9" y2="632.4" stroke="#2c2c2c" stroke-width="2"/>
<text x="290.9" y="653.8" font-size="24.4" textLength="60" lengthAdjust="spacingAndGlyphs" fill="#1a1a1a" stroke="#1a1a1a" stroke-width="0.45">29OCT</text>
<line x1="540.8" x2="540.8" y1="625.9" y2="632.4" stroke="#2c2c2c" stroke-width="2"/>
<text x="516.3" y="653.8" font-size="24.4" textLength="50" lengthAdjust="spacingAndGlyphs" fill="#1a1a1a" stroke="#1a1a1a" stroke-width="0.45">1NOV</text>
<line x1="687.8" x2="687.8" y1="625.9" y2="632.4" stroke="#2c2c2c" stroke-width="2"/>
<text x="663.3" y="653.8" font-size="24.4" textLength="50" lengthAdjust="spacingAndGlyphs" fill="#1a1a1a" stroke="#1a1a1a" stroke-width="0.45">3NOV</text>
<line x1="834.7" x2="834.7" y1="625.9" y2="632.4" stroke="#2c2c2c" stroke-width="2"/>
<text x="810.2" y="653.8" font-size="24.4" textLength="50" lengthAdjust="spacingAndGlyphs" fill="#1a1a1a" stroke="#1a1a1a" stroke-width="0.45">5NOV</text>
<line x1="981.7" x2="981.7" y1="625.9" y2="632.4" stroke="#2c2c2c" stroke-width="2"/>
<text x="957.2" y="653.8" font-size="24.4" textLength="50" lengthAdjust="spacingAndGlyphs" fill="#1a1a1a" stroke="#1a1a1a" stroke-width="0.45">7NOV</text>
<line x1="1128.6" x2="1128.6" y1="625.9" y2="632.4" stroke="#2c2c2c" stroke-width="2"/>
<text x="1104.1" y="653.8" font-size="24.4" textLength="50" lengthAdjust="spacingAndGlyphs" fill="#1a1a1a" stroke="#1a1a1a" stroke-width="0.45">9NOV</text>
<text x="149.0" y="675.8" font-size="24.4" textLength="49" lengthAdjust="spacingAndGlyphs" fill="#1a1a1a" stroke="#1a1a1a" stroke-width="0.45">2023</text>
<rect x="100.0" y="682.2" width="1102.1" height="225.39999999999998" fill="none" stroke="#2c2c2c" stroke-width="2.9"/>
<rect x="98.3" y="896.7" width="27.9" height="12.2" fill="#7cee00"/>
<rect x="147.3" y="853.5" width="52.4" height="55.4" fill="#7cee00"/>
<rect x="220.7" y="876.5" width="52.4" height="32.4" fill="#7cee00"/>
<rect x="294.2" y="850.2" width="52.4" height="58.7" fill="#7cee00"/>
<rect x="367.7" y="804.2" width="52.4" height="104.7" fill="#7cee00"/>
<rect x="441.2" y="829.2" width="52.4" height="79.7" fill="#7cee00"/>
<rect x="514.6" y="879.2" width="52.4" height="29.7" fill="#7cee00"/>
<rect x="588.1" y="835.2" width="52.4" height="73.7" fill="#7cee00"/>
<rect x="661.6" y="890.2" width="52.4" height="18.7" fill="#7cee00"/>
<rect x="735.1" y="901.9" width="52.4" height="7.0" fill="#7cee00"/>
<rect x="808.5" y="895.9" width="52.4" height="13.0" fill="#7cee00"/>
<rect x="882.0" y="881.9" width="52.4" height="27.0" fill="#7cee00"/>
<rect x="955.5" y="835.9" width="52.4" height="73.0" fill="#7cee00"/>
<rect x="1029.0" y="794.2" width="52.4" height="114.7" fill="#7cee00"/>
<rect x="1102.4" y="834.9" width="52.4" height="74.0" fill="#7cee00"/>
<rect x="1175.9" y="811.9" width="27.7" height="97.0" fill="#7cee00"/>
<line x1="109" x2="1196" y1="861.9" y2="861.9" stroke="#444" stroke-opacity="0.33" stroke-width="1.8" stroke-dasharray="2.3 7.75"/>
<line x1="109" x2="1196" y1="816.1" y2="816.1" stroke="#444" stroke-opacity="0.33" stroke-width="1.8" stroke-dasharray="2.3 7.75"/>
<line x1="109" x2="1196" y1="770.4" y2="770.4" stroke="#444" stroke-opacity="0.33" stroke-width="1.8" stroke-dasharray="2.3 7.75"/>
<line x1="109" x2="1196" y1="724.6" y2="724.6" stroke="#444" stroke-opacity="0.33" stroke-width="1.8" stroke-dasharray="2.3 7.75"/>
<line x1="109" x2="1196" y1="907.6" y2="907.6" stroke="#222" stroke-opacity="0.55" stroke-width="1.6" stroke-dasharray="2.3 7.75"/>
<line x1="91" x2="100" y1="907.6" y2="907.6" stroke="#2c2c2c" stroke-width="2"/>
<text x="84.7" y="918.0" font-size="29.3" text-anchor="end" textLength="15" lengthAdjust="spacingAndGlyphs" fill="#222">0</text>
<line x1="91" x2="100" y1="861.9" y2="861.9" stroke="#2c2c2c" stroke-width="2"/>
<text x="84.7" y="872.2" font-size="29.3" text-anchor="end" textLength="37.2" lengthAdjust="spacingAndGlyphs" fill="#222">0.1</text>
<line x1="91" x2="100" y1="816.1" y2="816.1" stroke="#2c2c2c" stroke-width="2"/>
<text x="84.7" y="826.5" font-size="29.3" text-anchor="end" textLength="37.2" lengthAdjust="spacingAndGlyphs" fill="#222">0.2</text>
<line x1="91" x2="100" y1="770.4" y2="770.4" stroke="#2c2c2c" stroke-width="2"/>
<text x="84.7" y="780.8" font-size="29.3" text-anchor="end" textLength="37.2" lengthAdjust="spacingAndGlyphs" fill="#222">0.3</text>
<line x1="91" x2="100" y1="724.6" y2="724.6" stroke="#2c2c2c" stroke-width="2"/>
<text x="84.7" y="735.0" font-size="29.3" text-anchor="end" textLength="37.2" lengthAdjust="spacingAndGlyphs" fill="#222">0.4</text>
<text transform="translate(31,835.8) rotate(-90)" font-size="27.3" textLength="82.0" lengthAdjust="spacingAndGlyphs" fill="#222">inches</text>
<line x1="173.5" x2="173.5" y1="907.6" y2="914.1" stroke="#2c2c2c" stroke-width="2"/>
<text x="144.0" y="935.0" font-size="24.4" textLength="60" lengthAdjust="spacingAndGlyphs" fill="#1a1a1a" stroke="#1a1a1a" stroke-width="0.45">27OCT</text>
<line x1="320.4" x2="320.4" y1="907.6" y2="914.1" stroke="#2c2c2c" stroke-width="2"/>
<text x="290.9" y="935.0" font-size="24.4" textLength="60" lengthAdjust="spacingAndGlyphs" fill="#1a1a1a" stroke="#1a1a1a" stroke-width="0.45">29OCT</text>
<line x1="540.8" x2="540.8" y1="907.6" y2="914.1" stroke="#2c2c2c" stroke-width="2"/>
<text x="516.3" y="935.0" font-size="24.4" textLength="50" lengthAdjust="spacingAndGlyphs" fill="#1a1a1a" stroke="#1a1a1a" stroke-width="0.45">1NOV</text>
<line x1="687.8" x2="687.8" y1="907.6" y2="914.1" stroke="#2c2c2c" stroke-width="2"/>
<text x="663.3" y="935.0" font-size="24.4" textLength="50" lengthAdjust="spacingAndGlyphs" fill="#1a1a1a" stroke="#1a1a1a" stroke-width="0.45">3NOV</text>
<line x1="834.7" x2="834.7" y1="907.6" y2="914.1" stroke="#2c2c2c" stroke-width="2"/>
<text x="810.2" y="935.0" font-size="24.4" textLength="50" lengthAdjust="spacingAndGlyphs" fill="#1a1a1a" stroke="#1a1a1a" stroke-width="0.45">5NOV</text>
<line x1="981.7" x2="981.7" y1="907.6" y2="914.1" stroke="#2c2c2c" stroke-width="2"/>
<text x="957.2" y="935.0" font-size="24.4" textLength="50" lengthAdjust="spacingAndGlyphs" fill="#1a1a1a" stroke="#1a1a1a" stroke-width="0.45">7NOV</text>
<line x1="1128.6" x2="1128.6" y1="907.6" y2="914.1" stroke="#2c2c2c" stroke-width="2"/>
<text x="1104.1" y="935.0" font-size="24.4" textLength="50" lengthAdjust="spacingAndGlyphs" fill="#1a1a1a" stroke="#1a1a1a" stroke-width="0.45">9NOV</text>
<text x="149.0" y="957.0" font-size="24.4" textLength="49" lengthAdjust="spacingAndGlyphs" fill="#1a1a1a" stroke="#1a1a1a" stroke-width="0.45">2023</text>
<text x="123.0" y="711.7" font-size="22.8" textLength="115.3" lengthAdjust="spacingAndGlyphs" fill="#222" stroke="#fff" stroke-width="0.3">Ensemble</text>
<text x="252.3" y="711.7" font-size="22.8" textLength="95.4" lengthAdjust="spacingAndGlyphs" fill="#222" stroke="#fff" stroke-width="0.3">Average</text>
<text x="362.3" y="711.7" font-size="22.8" textLength="58.0" lengthAdjust="spacingAndGlyphs" fill="#222" stroke="#fff" stroke-width="0.3">Daily</text>
<text x="434.0" y="711.7" font-size="22.8" textLength="152.0" lengthAdjust="spacingAndGlyphs" fill="#222" stroke="#fff" stroke-width="0.3">Precipitation</text>
<text x="929.8" y="712.3" font-size="27.5" textLength="21.0" lengthAdjust="spacingAndGlyphs" fill="#222">©</text>
<text x="960.3" y="710.0" font-size="23" textLength="65.0" lengthAdjust="spacingAndGlyphs" fill="#222" stroke="#fff" stroke-width="0.3">World</text>
<text x="1039.3" y="710.0" font-size="23" textLength="29.7" lengthAdjust="spacingAndGlyphs" fill="#222" stroke="#fff" stroke-width="0.3">Ag</text>
<text x="1082.7" y="710.0" font-size="23" textLength="97.0" lengthAdjust="spacingAndGlyphs" fill="#222" stroke="#fff" stroke-width="0.3">Weather</text>
</svg>
</body></html>
